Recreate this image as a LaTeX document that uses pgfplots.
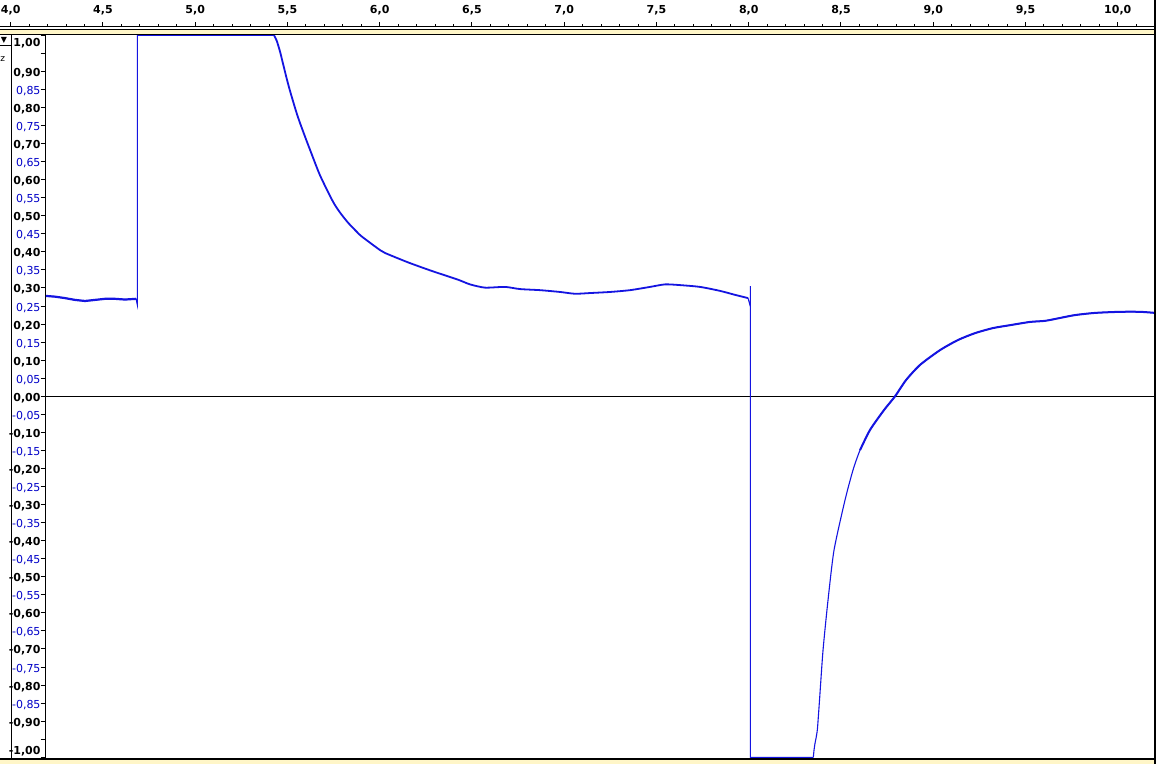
\documentclass[border=0pt]{standalone}
\usepackage{pgfplots}
\pgfplotsset{compat=1.18}
\usepackage{fontspec}
\setmainfont{DejaVu Sans}
\definecolor{wave}{RGB}{20,20,225}
\definecolor{minorlbl}{RGB}{0,0,200}
\definecolor{strip}{RGB}{255,246,200}
\newcommand\B[1]{\textbf{#1}}
\newcommand\N[1]{\textcolor{minorlbl}{#1}}
\newcommand\Hi[1]{\raisebox{-6.7bp}[\height][\depth]{\textbf{#1}}}
\newcommand\Lo[1]{\raisebox{8.3bp}[\height][\depth]{\textbf{#1}}}
\newcommand\lblfont{\fontsize{11bp}{13bp}\selectfont}
\begin{document}
\begin{tikzpicture}
\useasboundingbox (0bp,0bp) rectangle (1156bp,764bp);
\fill[white] (0bp,0bp) rectangle (1156bp,764bp);
\fill[strip] (0bp,730.3bp) rectangle (1156bp,734.5bp);
\fill[strip] (0bp,0bp) rectangle (1156bp,3.7bp);

% top time ruler
\begin{axis}[at={(0bp,737bp)}, anchor=north west, scale only axis,
  width=1156bp, height=5bp,
  xmin=3.94201, xmax=10.20759, ymin=0, ymax=1,
  axis x line*=top, axis y line=none,
  tick align=outside,
  xtick={4,4.5,5,5.5,6,6.5,7,7.5,8,8.5,9,9.5,10},
  xticklabels={{4,0},{4,5},{5,0},{5,5},{6,0},{6,5},{7,0},{7,5},{8,0},{8,5},{9,0},{9,5},{10,0}},
  minor xtick={4.1,4.2,4.3,4.4,4.6,4.7,4.8,4.9,5.1,5.2,5.3,5.4,5.6,5.7,5.8,5.9,6.1,6.2,6.3,6.4,6.6,6.7,6.8,6.9,7.1,7.2,7.3,7.4,7.6,7.7,7.8,7.9,8.1,8.2,8.3,8.4,8.6,8.7,8.8,8.9,9.1,9.2,9.3,9.4,9.6,9.7,9.8,9.9,10.1,10.2},
  major tick length=4.5bp, minor tick length=2.5bp,
  tick style={black, line width=1bp},
  axis line style={black, line width=1bp},
  xticklabel style={font=\lblfont\bfseries, anchor=base, inner sep=0pt, yshift=8.5bp},
]
\addplot[draw=none] coordinates {(5,0.5)};
\end{axis}

% waveform track
\begin{axis}[at={(45.7bp,4.7bp)}, anchor=south west, scale only axis,
  width=1109.4bp, height=725.1bp,
  xmin=4.18970, xmax=10.20271, ymin=-1.00554, ymax=1.00305,
  xtick=\empty,
  ytick={-1,-0.95,-0.9,-0.85,-0.8,-0.75,-0.7,-0.65,-0.6,-0.55,-0.5,-0.45,-0.4,-0.35,-0.3,-0.25,-0.2,-0.15,-0.1,-0.05,0,0.05,0.1,0.15,0.2,0.25,0.3,0.35,0.4,0.45,0.5,0.55,0.6,0.65,0.7,0.75,0.8,0.85,0.9,0.95,1},
  yticklabels={\Lo{-1,00},{},\B{-0,90},\N{-0,85},\B{-0,80},\N{-0,75},\B{-0,70},\N{-0,65},\B{-0,60},\N{-0,55},\B{-0,50},\N{-0,45},\B{-0,40},\N{-0,35},\B{-0,30},\N{-0,25},\B{-0,20},\N{-0,15},\B{-0,10},\N{-0,05},\B{0,00},\N{0,05},\B{0,10},\N{0,15},\B{0,20},\N{0,25},\B{0,30},\N{0,35},\B{0,40},\N{0,45},\B{0,50},\N{0,55},\B{0,60},\N{0,65},\B{0,70},\N{0,75},\B{0,80},\N{0,85},\B{0,90},{},\Hi{1,00}},
  ytick pos=left, tick align=outside, major tick length=5bp,
  tick style={black, line width=1bp},
  axis line style={black, line width=1bp},
  yticklabel style={font=\lblfont, anchor=east, inner sep=0pt, text height=8bp, text depth=0pt, yshift=-1bp},
  axis background/.style={fill=white},
]
\addplot[black, line width=1bp] coordinates {(4.1897,0) (10.2027,0)};
% first part and clipped top
\addplot[wave, line width=1bp] coordinates {
(4.1913,0.278) (4.2401,0.276) (4.2943,0.272) (4.3485,0.267) (4.4027,0.264) (4.4569,0.267) (4.5111,0.270) (4.5653,0.270) (4.6195,0.268) (4.6791,0.270) (4.6862,0.253) (4.6862,1.0) (5.4271,1.0)
};
\addplot[wave, line width=2.2bp] coordinates {
(4.1913,0.278) (4.2401,0.276) (4.2943,0.272) (4.3485,0.267) (4.4027,0.264) (4.4569,0.267) (4.5111,0.270) (4.5653,0.270) (4.6195,0.268) (4.6791,0.270)
};
% decay
\addplot[wave, line width=1.8bp, smooth, tension=0.4] coordinates {
(5.4271,1.000) (5.4417,0.985) (5.4596,0.955) (5.4775,0.918) (5.4959,0.880) (5.5138,0.846) (5.5463,0.790) (5.5680,0.757) (5.6005,0.712) (5.6222,0.683) (5.6765,0.612) (5.7469,0.539) (5.7849,0.509) (5.8282,0.481) (5.8770,0.455) (5.9041,0.442) (6.0016,0.405) (6.0287,0.397) (6.1534,0.371) (6.2835,0.347) (6.4244,0.323) (6.4894,0.310) (6.5707,0.301) (6.6791,0.303) (6.7604,0.297) (6.8688,0.294) (6.9772,0.289) (7.0585,0.284) (7.1398,0.286) (7.2482,0.289) (7.3566,0.294) (7.4650,0.303) (7.5463,0.310) (7.6276,0.308) (7.7360,0.303) (7.8444,0.292) (7.9257,0.281) (7.9962,0.272)
};
% drop to clipped bottom
\addplot[wave, line width=1bp] coordinates {
(7.9962,0.272) (8.0087,0.248) (8.0087,0.3055) (8.0087,-1.0) (8.3501,-1.0)
};
% rise
\addplot[wave, line width=1.1bp, smooth, tension=0.4] coordinates {
(8.3501,-1.0) (8.3539,-0.980) (8.3593,-0.961) (8.3648,-0.947) (8.3718,-0.924) (8.3772,-0.888) (8.3837,-0.841) (8.4027,-0.703) (8.4298,-0.564) (8.4623,-0.426) (8.5220,-0.287) (8.5653,-0.204) (8.6033,-0.149) (8.6575,-0.093) (8.7333,-0.038) (8.7930,0.0) (8.8526,0.045) (8.9285,0.087) (9.0369,0.128) (9.1344,0.156) (9.2266,0.175) (9.3241,0.189) (9.4163,0.197) (9.5247,0.206) (9.6060,0.209) (9.6873,0.217) (9.7686,0.225) (9.8770,0.231) (10.0125,0.234) (10.1209,0.234) (10.2022,0.231)
};
\addplot[wave, line width=2bp, smooth, tension=0.4] coordinates {
(8.6033,-0.149) (8.6575,-0.093) (8.7333,-0.038) (8.7930,0.0) (8.8526,0.045) (8.9285,0.087) (9.0369,0.128) (9.1344,0.156) (9.2266,0.175) (9.3241,0.189) (9.4163,0.197) (9.5247,0.206) (9.6060,0.209) (9.6873,0.217) (9.7686,0.225) (9.8770,0.231) (10.0125,0.234) (10.1209,0.234) (10.2022,0.231)
};
\end{axis}

% frame lines
\draw[black, line width=0.7bp] (0bp,735bp) -- (1156bp,735bp);
\draw[black, line width=1bp] (0bp,729.8bp) -- (1156bp,729.8bp);
\draw[black, line width=2bp] (0bp,4.7bp) -- (1156bp,4.7bp);
\draw[black, line width=1.7bp] (1155.1bp,0bp) -- (1155.1bp,764bp);
\draw[black, line width=1bp] (11.3bp,4.7bp) -- (11.3bp,729.8bp);
\draw[black, line width=1bp] (0bp,718.3bp) -- (11.3bp,718.3bp);
\node[font=\fontsize{8bp}{9bp}\selectfont, inner sep=0pt] at (4bp,724bp) {▼};
\node[font=\fontsize{9bp}{10bp}\selectfont, inner sep=0pt, anchor=base west] at (0.3bp,702bp) {z};
\end{tikzpicture}
\end{document}
